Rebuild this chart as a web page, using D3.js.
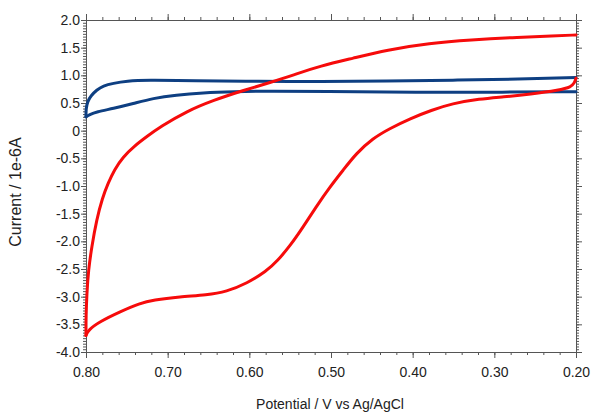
<!DOCTYPE html>
<html><head><meta charset="utf-8">
<script src="https://cdn.jsdelivr.net/npm/d3@7"></script>
<style>body{margin:0;background:#fff}svg{display:block}</style>
</head><body>
<svg id="c" width="592" height="415"></svg>
<script>
// Data (Potential in V vs Ag/AgCl, Current in 1e-6 A)
const redLowerV = [0.200,0.202,0.206,0.220,0.256,0.289,0.318,0.352,0.377,0.403,0.428,0.449,0.469,0.485,0.501,0.518,0.534,0.550,0.566,0.579,0.603,0.628,0.652,0.685,0.718,0.734,0.758,0.783,0.797,0.800];
const redLowerI = [0.95,0.86,0.79,0.735,0.66,0.61,0.575,0.49,0.37,0.22,0.04,-0.14,-0.41,-0.71,-1.01,-1.37,-1.74,-2.08,-2.36,-2.54,-2.76,-2.91,-2.97,-3.00,-3.06,-3.12,-3.27,-3.45,-3.60,-3.70];
const redUpperV = [0.800,0.800,0.800,0.799,0.797,0.793,0.787,0.780,0.773,0.765,0.755,0.741,0.725,0.709,0.677,0.644,0.607,0.571,0.546,0.513,0.473,0.432,0.379,0.330,0.269,0.228,0.200];
const redUpperI = [-3.70,-3.55,-3.40,-2.94,-2.52,-2.10,-1.61,-1.22,-0.95,-0.70,-0.48,-0.28,-0.10,0.07,0.35,0.55,0.73,0.885,1.006,1.17,1.31,1.46,1.58,1.64,1.69,1.71,1.73];
const blueUpperV = [0.800,0.800,0.798,0.794,0.787,0.779,0.767,0.750,0.726,0.669,0.588,0.513,0.432,0.351,0.269,0.200];
const blueUpperI = [0.25,0.40,0.53,0.63,0.735,0.81,0.856,0.897,0.915,0.905,0.89,0.885,0.897,0.912,0.93,0.96];
const blueLowerV = [0.200,0.300,0.391,0.513,0.571,0.620,0.657,0.690,0.718,0.742,0.767,0.787,0.796,0.800];
const blueLowerI = [0.705,0.695,0.69,0.71,0.717,0.705,0.685,0.645,0.585,0.49,0.40,0.34,0.29,0.25];
const xTickLabels = ["0.80","0.70","0.60","0.50","0.40","0.30","0.20"];
const yTickLabels = ["2.0","1.5","1.0","0.5","0","-0.5","-1.0","-1.5","-2.0","-2.5","-3.0","-3.5","-4.0"];

const svg = d3.select("#c");
const L = 86, R = 576, T = 20, B = 352;
const x = d3.scaleLinear().domain([0.80, 0.20]).range([L, R]);
const y = d3.scaleLinear().domain([-4.0, 2.0]).range([B, T]);
const font = "'Liberation Sans', Arial, sans-serif";
const axisColor = "#555";

const xMajor = xTickLabels.map(Number);
const xMinor = d3.range(0, 31).map(i => +(0.80 - i * 0.02).toFixed(3));
const yMajor = yTickLabels.map(Number);
const yMinor = d3.range(0, 121).map(i => +(2.0 - i * 0.05).toFixed(3));

function style(g) {
  g.select(".domain").attr("stroke", axisColor).attr("stroke-width", 1);
  g.selectAll(".tick line").attr("stroke", axisColor).attr("stroke-width", 1);
  g.selectAll("text").attr("font-family", font).attr("font-size", 14).attr("fill", "#222");
}
// minor ticks
svg.append("g").attr("transform", `translate(0,${B})`).call(d3.axisBottom(x).tickValues(xMinor).tickSize(3).tickFormat("")).call(style);
svg.append("g").attr("transform", `translate(0,${T})`).call(d3.axisTop(x).tickValues(xMinor).tickSize(3).tickFormat("")).call(style);
svg.append("g").attr("transform", `translate(${L},0)`).call(d3.axisLeft(y).tickValues(yMinor).tickSize(3).tickFormat("")).call(style);
svg.append("g").attr("transform", `translate(${R},0)`).call(d3.axisRight(y).tickValues(yMinor).tickSize(3).tickFormat("")).call(style);
// major ticks
svg.append("g").attr("transform", `translate(0,${B})`)
  .call(d3.axisBottom(x).tickValues(xMajor).tickSize(6).tickPadding(9).tickFormat((d, i) => xTickLabels[i])).call(style);
svg.append("g").attr("transform", `translate(0,${T})`).call(d3.axisTop(x).tickValues(xMajor).tickSize(6).tickFormat("")).call(style);
svg.append("g").attr("transform", `translate(${L},0)`)
  .call(d3.axisLeft(y).tickValues(yMajor).tickSize(5).tickPadding(1).tickFormat((d, i) => yTickLabels[i])).call(style);
svg.append("g").attr("transform", `translate(${R},0)`).call(d3.axisRight(y).tickValues(yMajor).tickSize(6).tickFormat("")).call(style);

const line = d3.line().x(d => x(d[0])).y(d => y(d[1])).curve(d3.curveBasis);
function draw(V, I, color) {
  svg.append("path").datum(V.map((v, i) => [v, I[i]]))
    .attr("d", line).attr("fill", "none").attr("stroke", color)
    .attr("stroke-width", 3).attr("stroke-linejoin", "round").attr("stroke-linecap", "round");
}
draw(blueUpperV, blueUpperI, "#0e3f82");
draw(blueLowerV, blueLowerI, "#0e3f82");
draw(redLowerV, redLowerI, "#f60b0b");
draw(redUpperV, redUpperI, "#f60b0b");

svg.append("text").attr("x", 330).attr("y", 409).attr("text-anchor", "middle")
  .attr("font-family", font).attr("font-size", 14).attr("fill", "#222").text("Potential / V vs Ag/AgCl");
svg.append("text").attr("transform", "translate(21,192) rotate(-90)").attr("text-anchor", "middle")
  .attr("font-family", font).attr("font-size", 16).attr("fill", "#222").text("Current / 1e-6A");
</script>
</body></html>
